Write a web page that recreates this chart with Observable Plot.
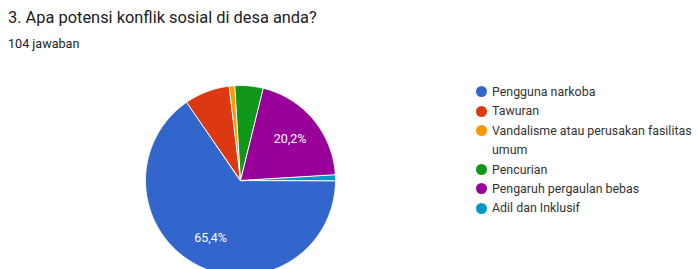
<!DOCTYPE html>
<html>
<head>
<meta charset="utf-8">
<script src="https://cdn.jsdelivr.net/npm/d3@7"></script>
<script src="https://cdn.jsdelivr.net/npm/@observablehq/plot@0.6"></script>
<style>
  html, body { margin: 0; padding: 0; background: #fff; overflow: hidden; }
  #wrap { position: relative; width: 697px; height: 269px; font-family: Roboto, "Noto Sans", sans-serif; }
  #head { height: 55px; position: relative; }
  #title { position: absolute; left: 8px; top: 8px; font-size: 16.4px; color: #202124; white-space: nowrap; }
  #sub { position: absolute; left: 8px; top: 35.5px; font-size: 12.6px; color: #202124; white-space: nowrap; }
  #legend { position: absolute; left: 476px; top: 82px; font-size: 12.4px; color: #333; }
  .item { display: flex; align-items: flex-start; line-height: 19.4px; }
  .sw { width: 11px; height: 11px; border-radius: 50%; margin-top: 4.2px; margin-right: 5px; flex: none; }
  .lab { width: 210px; }
  #chart svg { display: block; overflow: visible; }
</style>
</head>
<body>
<div id="wrap">
  <div id="head">
    <div id="title"></div>
    <div id="sub"></div>
  </div>
  <div id="chart"></div>
  <div id="legend"></div>
</div>
<script>
const titleText = "3. Apa potensi konflik sosial di desa anda?";
const subtitleText = "104 jawaban";
const categories = ["Pengguna narkoba", "Tawuran", "Vandalisme atau perusakan fasilitas umum", "Pencurian", "Pengaruh pergaulan bebas", "Adil dan Inklusif"];
const counts = [68, 8, 1, 5, 21, 1];
const colors = ["#3366cc", "#dc3912", "#ff9900", "#109618", "#990099", "#0099c6"];

document.getElementById("title").textContent = titleText;
document.getElementById("sub").textContent = subtitleText;

const W = 697, H = 214;
const cx = 240, cy = 125, R = 95;
const total = d3.sum(counts);
const arcs = d3.pie().sort(null).startAngle(Math.PI / 2).endAngle(Math.PI / 2 + 2 * Math.PI)(counts);

// slice outlines in unit-circle coordinates (y up)
const poly = [];
arcs.forEach((a, i) => {
  const n = Math.max(2, Math.ceil((a.endAngle - a.startAngle) / (Math.PI / 360)));
  poly.push({cat: categories[i], x: 0, y: 0});
  for (let k = 0; k <= n; k++) {
    const t = a.startAngle + (a.endAngle - a.startAngle) * k / n;
    poly.push({cat: categories[i], x: Math.sin(t), y: Math.cos(t)});
  }
});

const labels = arcs.filter(a => a.value / total >= 0.1).map(a => {
  const m = (a.startAngle + a.endAngle) / 2;
  return {x: 0.68 * Math.sin(m), y: 0.68 * Math.cos(m), text: (a.value / total * 100).toFixed(1).replace(".", ",") + "%"};
});

const chart = Plot.plot({
  width: W, height: H,
  margin: 0,
  x: {domain: [-cx / R, (W - cx) / R], axis: null},
  y: {domain: [-(H - cy) / R, cy / R], axis: null},
  color: {domain: categories, range: colors},
  style: {fontFamily: "Roboto, 'Noto Sans', sans-serif", overflow: "visible"},
  marks: [
    Plot.line(poly, {x: "x", y: "y", z: "cat", fill: "cat", stroke: "white", strokeWidth: 1, curve: "linear-closed", strokeLinejoin: "round"}),
    Plot.text(labels, {x: "x", y: "y", text: "text", fill: "white", fontSize: 12.5})
  ]
});
document.getElementById("chart").appendChild(chart);

const leg = document.getElementById("legend");
categories.forEach((c, i) => {
  const it = document.createElement("div");
  it.className = "item";
  const sw = document.createElement("span");
  sw.className = "sw";
  sw.style.background = colors[i];
  const lab = document.createElement("span");
  lab.className = "lab";
  lab.textContent = c;
  it.appendChild(sw); it.appendChild(lab);
  leg.appendChild(it);
});
</script>
</body>
</html>
